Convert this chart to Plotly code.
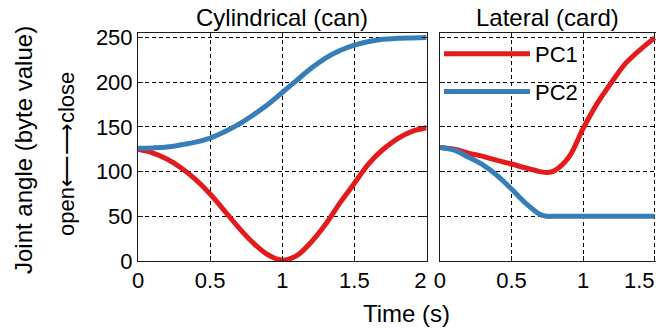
import plotly.graph_objects as go

# Principal-component joint trajectories for two grasp types
t_cyl = [0.0, 0.1, 0.2, 0.3, 0.4, 0.5, 0.6, 0.7, 0.8, 0.9, 1.0,
         1.1, 1.2, 1.3, 1.4, 1.5, 1.6, 1.7, 1.8, 1.9, 2.0]
pc1_cyl = [125, 121, 114, 104, 91, 75, 56, 37, 20, 7, 1,
           6, 21, 41, 65, 87, 109, 125, 137, 145, 149]
pc2_cyl = [126, 126.5, 127.5, 130, 133, 137.5, 144.5, 153, 163.5, 175, 188.5,
           202, 215.5, 227, 235.5, 241.5, 245.5, 248, 249, 249.5, 250]

t_lat = [0.0, 0.1, 0.2, 0.3, 0.4, 0.5, 0.6, 0.7, 0.75, 0.8, 0.9, 1.0,
         1.1, 1.2, 1.3, 1.4, 1.5]
pc1_lat = [127, 125, 120.5, 117, 112.5, 108.5, 104, 100, 99, 101, 116, 148,
           176.5, 200, 221.5, 236.5, 249.5]
pc2_lat = [127, 124, 116, 107.5, 95.5, 80.5, 64.5, 52, 50, 50, 50, 50,
           50, 50, 50, 50, 50]

x_ticks = [0, 0.5, 1, 1.5, 2]
x_labels = ["0", "0.5", "1", "1.5", ""]
x_ticks_lat = [0, 0.5, 1, 1.5]
x_labels_lat = ["0", "0.5", "1", ""]
y_ticks = [0, 50, 100, 150, 200, 250]

RED = "#e41a1c"
BLUE = "#377eb8"
FONT = "Liberation Sans, Arial, sans-serif"
INK = "#1a1a1a"
TICKFONT = dict(family=FONT, size=22, color="black")

fig = go.Figure()
common = dict(mode="lines", line_shape="spline")
fig.add_trace(go.Scatter(x=t_cyl, y=pc1_cyl, name="PC1", legendgroup="a",
                         line=dict(color=RED, width=5), xaxis="x", yaxis="y", **common))
fig.add_trace(go.Scatter(x=t_cyl, y=pc2_cyl, name="PC2", legendgroup="b",
                         line=dict(color=BLUE, width=5), xaxis="x", yaxis="y", **common))
fig.add_trace(go.Scatter(x=t_lat, y=pc1_lat, name="PC1", legendgroup="a", showlegend=False,
                         line=dict(color=RED, width=5), xaxis="x2", yaxis="y2", **common))
fig.add_trace(go.Scatter(x=t_lat, y=pc2_lat, name="PC2", legendgroup="b", showlegend=False,
                         line=dict(color=BLUE, width=5), xaxis="x2", yaxis="y2", **common))

grid = dict(showgrid=True, gridcolor="black", gridwidth=1, griddash="4px,3px",
            zeroline=False, showline=True, linecolor=INK, linewidth=1,
            ticks="inside", ticklen=5, tickcolor=INK, automargin=False,
            tickfont=TICKFONT)

# label-only axes for the end ticks that sit against a panel edge
edge = dict(showgrid=False, zeroline=False, showline=False, ticks="",
            automargin=False, tickfont=TICKFONT, side="bottom",
            ticklabeloverflow="allow", ticklabelposition="outside left",
            ticklabelstandoff=4)

fig.update_layout(
    width=656, height=330,
    margin=dict(l=138, r=0, t=33, b=69, autoexpand=False),
    paper_bgcolor="white", plot_bgcolor="white",
    showlegend=True,
    legend=dict(x=0.581, y=1.0, xanchor="left", yanchor="top",
                bgcolor="rgba(0,0,0,0)", borderwidth=0,
                font=dict(family=FONT, size=22, color="black"),
                traceorder="grouped", tracegroupgap=6, itemwidth=86),
    xaxis=dict(domain=[0, 0.557], range=[0, 2], tickvals=x_ticks,
               ticktext=x_labels, mirror="ticks", anchor="y", **grid),
    yaxis=dict(domain=[0, 1], range=[0, 255], tickvals=y_ticks,
               mirror="ticks", anchor="x", **grid),
    xaxis2=dict(domain=[0.583, 1], range=[0, 1.51], tickvals=x_ticks_lat,
                ticktext=x_labels_lat, mirror="ticks", anchor="y2", **grid),
    yaxis2=dict(domain=[0, 1], range=[0, 255], tickvals=y_ticks,
                showticklabels=False, mirror=False, anchor="x2", **grid),
    xaxis3=dict(domain=[0, 0.557], range=[0, 2], tickvals=[x_ticks[-1]],
                ticktext=["2"], overlaying="x", anchor="y", **edge),
    xaxis4=dict(domain=[0.583, 1], range=[0, 1.51], tickvals=[x_ticks_lat[-1]],
                ticktext=["1.5"], overlaying="x2", anchor="y2", **edge),
    annotations=[
        dict(text="Cylindrical (can)", x=0.2785, y=1.0, xref="paper", yref="paper",
             xanchor="center", yanchor="bottom", showarrow=False,
             font=dict(family=FONT, size=24, color="black")),
        dict(text="Lateral (card)", x=0.7915, y=1.0, xref="paper", yref="paper",
             xanchor="center", yanchor="bottom", showarrow=False,
             font=dict(family=FONT, size=24, color="black")),
        dict(text="Time (s)", x=0.519, y=-0.232, xref="paper", yref="paper",
             xanchor="center", yanchor="middle", showarrow=False,
             font=dict(family=FONT, size=24, color="black")),
        dict(text="Joint angle (byte value)", x=-0.22, y=0.487, xref="paper", yref="paper",
             xanchor="center", yanchor="middle", textangle=-90, showarrow=False,
             font=dict(family=FONT, size=24, color="black")),
        dict(text="open\u27f5\u27f6close", x=-0.139, y=0.469, xref="paper", yref="paper",
             xanchor="center", yanchor="middle", textangle=-90, showarrow=False,
             font=dict(family=FONT, size=22, color="black")),
    ],
)

# the overlay axes carry labels only; give them a trace each so they render
fig.add_trace(go.Scatter(x=[], y=[], xaxis="x3", yaxis="y", showlegend=False, hoverinfo="skip"))
fig.add_trace(go.Scatter(x=[], y=[], xaxis="x4", yaxis="y2", showlegend=False, hoverinfo="skip"))

fig.write_html("out.html")
